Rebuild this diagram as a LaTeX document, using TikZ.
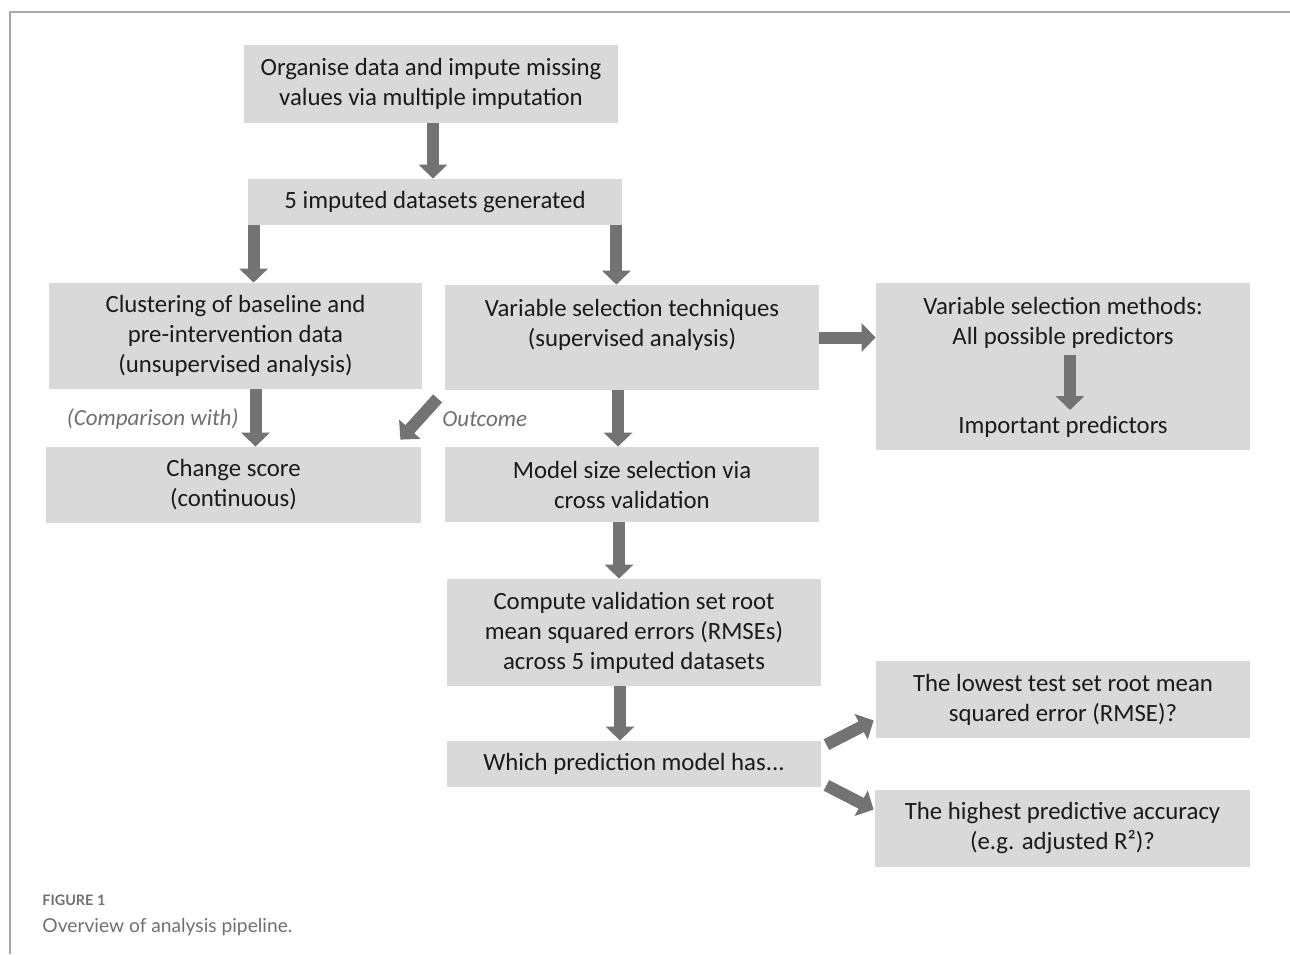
\documentclass[tikz,border=0pt]{standalone}
\usepackage{fontspec}
\setmainfont{Carlito}
\newfontfamily\capfont{Lato}
\usetikzlibrary{arrows.meta}
\definecolor{boxgray}{HTML}{D9D9D9}
\definecolor{arrgray}{HTML}{737373}
\definecolor{txtdark}{HTML}{1A1A1A}
\definecolor{lblgray}{HTML}{6F6F6F}
\definecolor{capgray}{HTML}{707070}
\definecolor{framegray}{HTML}{A8A8A8}
\begin{document}
\begin{tikzpicture}[x=0.5pt,y=-0.5pt,
        box/.style={fill=boxgray, text=txtdark, align=center, inner sep=0pt,
            minimum width=187pt, font=\fontsize{12.4}{15}\selectfont},
        blk/.style={draw=arrgray, line width=6pt, -{Triangle[width=14pt,length=7pt]}},
        lbl/.style={text=lblgray, inner sep=0pt, font=\fontsize{11.5}{13}\selectfont\itshape}]
        \useasboundingbox (0,0) rectangle (1290,954);
        %% Frame
        \draw[framegray, line width=0.8pt] (10,954) -- (10,12) -- (1290,12);
        %% Imputation
        \node[box, minimum height=39pt] (organise) at (431,84) {Organise data and impute missing\\values via multiple imputation};
        \node[box, minimum height=23pt] (imputed) at (435,202) {5 imputed datasets generated};
        %% Unsupervised branch
        \node[box, minimum width=186.5pt, minimum height=53pt] (cluster) at (235.5,336) {Clustering of baseline and\\pre-intervention data\\(unsupervised analysis)};
        \node[box, minimum width=187.5pt, minimum height=38pt] (change) at (233.5,485) {Change score\\(continuous)};
        %% Supervised branch
        \node[box, minimum height=52.5pt] (varsel) at (632,337.5) {Variable selection techniques\\(supervised analysis)\\\mbox{}};
        \node[box, minimum height=37.5pt] (modsize) at (632,484.5) {Model size selection via\\cross validation};
        \node[box, minimum height=53.5pt] (rmse) at (634,632.5) {Compute validation set root\\mean squared errors (RMSEs)\\across 5 imputed datasets};
        \node[box, minimum height=23pt] (which) at (634,764) {Which prediction model has...};
        %% Right column
        \node[box, minimum height=83.5pt] (methods) at (1063,366.5) {};
        \node[box, fill=none, inner sep=3pt] (allpred) at (1063,323) {Variable selection methods:\\All possible predictors};
        \node[box, fill=none, inner sep=3pt] (imppred) at (1063,427) {Important predictors};
        \node[box, minimum height=38.5pt] (lowest) at (1063,699.5) {The lowest test set root mean\\squared error (RMSE)?};
        \node[box, minimum width=187.5pt, minimum height=38.5pt] (highest) at (1062.5,828.5) {The highest predictive accuracy\\(e.g. adjusted R²)?};
        %% Labels
        \node[lbl, anchor=east] (compare) at (239,419) {(Comparison with)};
        \node[lbl, anchor=west] (outcome) at (442,419) {Outcome};
        %% Arrows
        \draw[blk] ([xshift=1pt]organise.south) -- ([xshift=1pt]organise.south |- imputed.north);
        \draw[blk] ([xshift=3pt]imputed.south west) -- ([xshift=3pt]imputed.south west |- cluster.north);
        \draw[blk] ([xshift=-3pt]imputed.south east) -- ([xshift=-3pt]imputed.south east |- varsel.north);
        \draw[blk] (varsel.east) -- (varsel.east -| methods.west);
        \draw[blk] ([xshift=3.5pt]allpred.south) -- ([xshift=3.5pt]imppred.north);
        \draw[blk] ([xshift=10pt]cluster.south) -- ([xshift=10pt]cluster.south |- change.north);
        \draw[blk] ([shift={(-7,8)}]varsel.south west) -- ([shift={(-21,-7)}]change.north east);
        \draw[blk] ([xshift=-7pt]varsel.south) -- ([xshift=-7pt]varsel.south |- modsize.north);
        \draw[blk] ([xshift=-6.5pt]modsize.south) -- ([xshift=-6.5pt]modsize.south |- rmse.north);
        \draw[blk] ([xshift=-7pt]rmse.south) -- ([xshift=-7pt]rmse.south |- which.north);
        \draw[blk] ([shift={(5,4)}]which.north east) -- ([shift={(-2,-18)}]lowest.south west);
        \draw[blk] ([shift={(5,-2)}]which.south east) -- ([shift={(-1,20)}]highest.north west);
        %% Caption
        \node[anchor=base west, inner sep=0pt, text=capgray, font=\capfont\bfseries\fontsize{7.2}{8}\selectfont] (figno) at (42,905) {FIGURE 1};
        \node[anchor=base west, inner sep=0pt, text=capgray, font=\capfont\fontsize{9.6}{11}\selectfont] (caption) at (42,932) {Overview of analysis pipeline.};
\end{tikzpicture}
\end{document}
